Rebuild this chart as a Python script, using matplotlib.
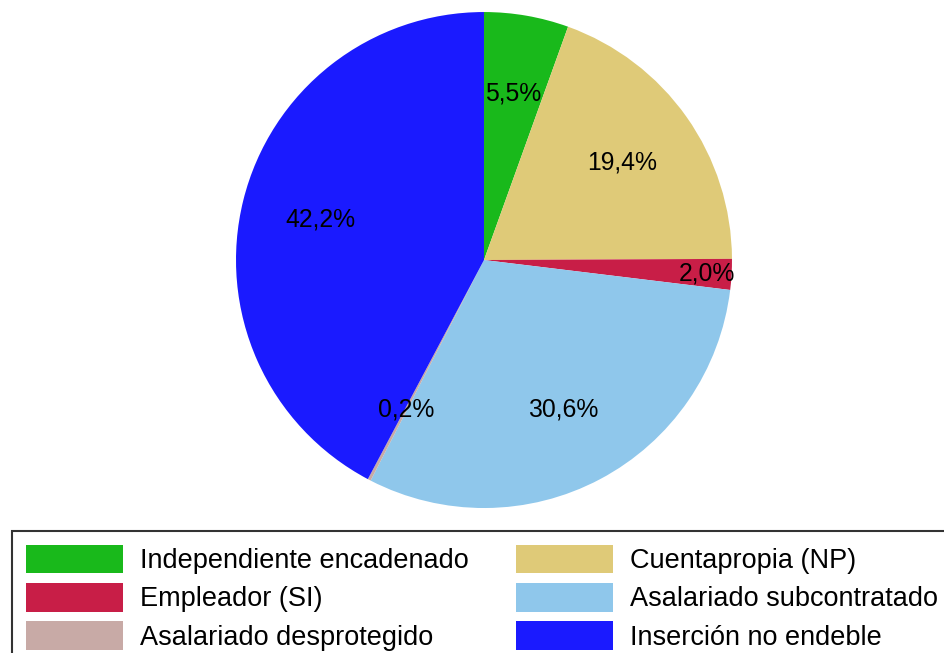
import matplotlib.pyplot as plt

plt.rcParams['font.family'] = ['Liberation Sans', 'DejaVu Sans']

# Data
labels = ['Independiente encadenado', 'Cuentapropia (NP)', 'Empleador (SI)',
          'Asalariado subcontratado', 'Asalariado desprotegido', 'Inserción no endeble']
values = [5.5, 19.4, 2.0, 30.6, 0.2, 42.2]
colors = ['#19b91b', '#dfca78', '#c81e47', '#8fc7eb', '#c8aaa6', '#1a1aff']
pct_text = ['5,5%', '19,4%', '2,0%', '30,6%', '0,2%', '42,2%']

fig = plt.figure(figsize=(9.44, 6.53), dpi=100)
ax = fig.add_axes([0.25, 0.222, 0.5254, 0.7596])

wedges, texts, autotexts = ax.pie(values, colors=colors, startangle=90, counterclock=False,
                                  radius=1, pctdistance=0.68,
                                  autopct=lambda p: '',
                                  wedgeprops=dict(linewidth=0))
for i, t in enumerate(autotexts):
    t.set_text(pct_text[i])
    t.set_fontsize(17.8)
    t.set_color('black')
# the small red slice label sits further out
x, y = autotexts[2].get_position()
autotexts[2].set_position((x / 0.68 * 0.9, y / 0.68 * 0.9))

ax.set_xlim(-1, 1)
ax.set_ylim(-1, 1)
ax.set_aspect('equal')
ax.axis('off')

# legend order: row-wise in 2 columns
order = [0, 2, 4, 1, 3, 5]
leg = fig.legend([wedges[i] for i in order], [labels[i] for i in order],
                 loc='upper left', bbox_to_anchor=(12 / 944, (653 - 531) / 653),
                 ncol=2, fontsize=19.5, frameon=True, fancybox=False,
                 edgecolor='black', borderaxespad=0, borderpad=0.5,
                 handlelength=3.6, handleheight=1.25, handletextpad=0.62,
                 columnspacing=1.75, labelspacing=0.33)
leg.get_frame().set_linewidth(1.5)

plt.savefig('out.png', dpi=100)
